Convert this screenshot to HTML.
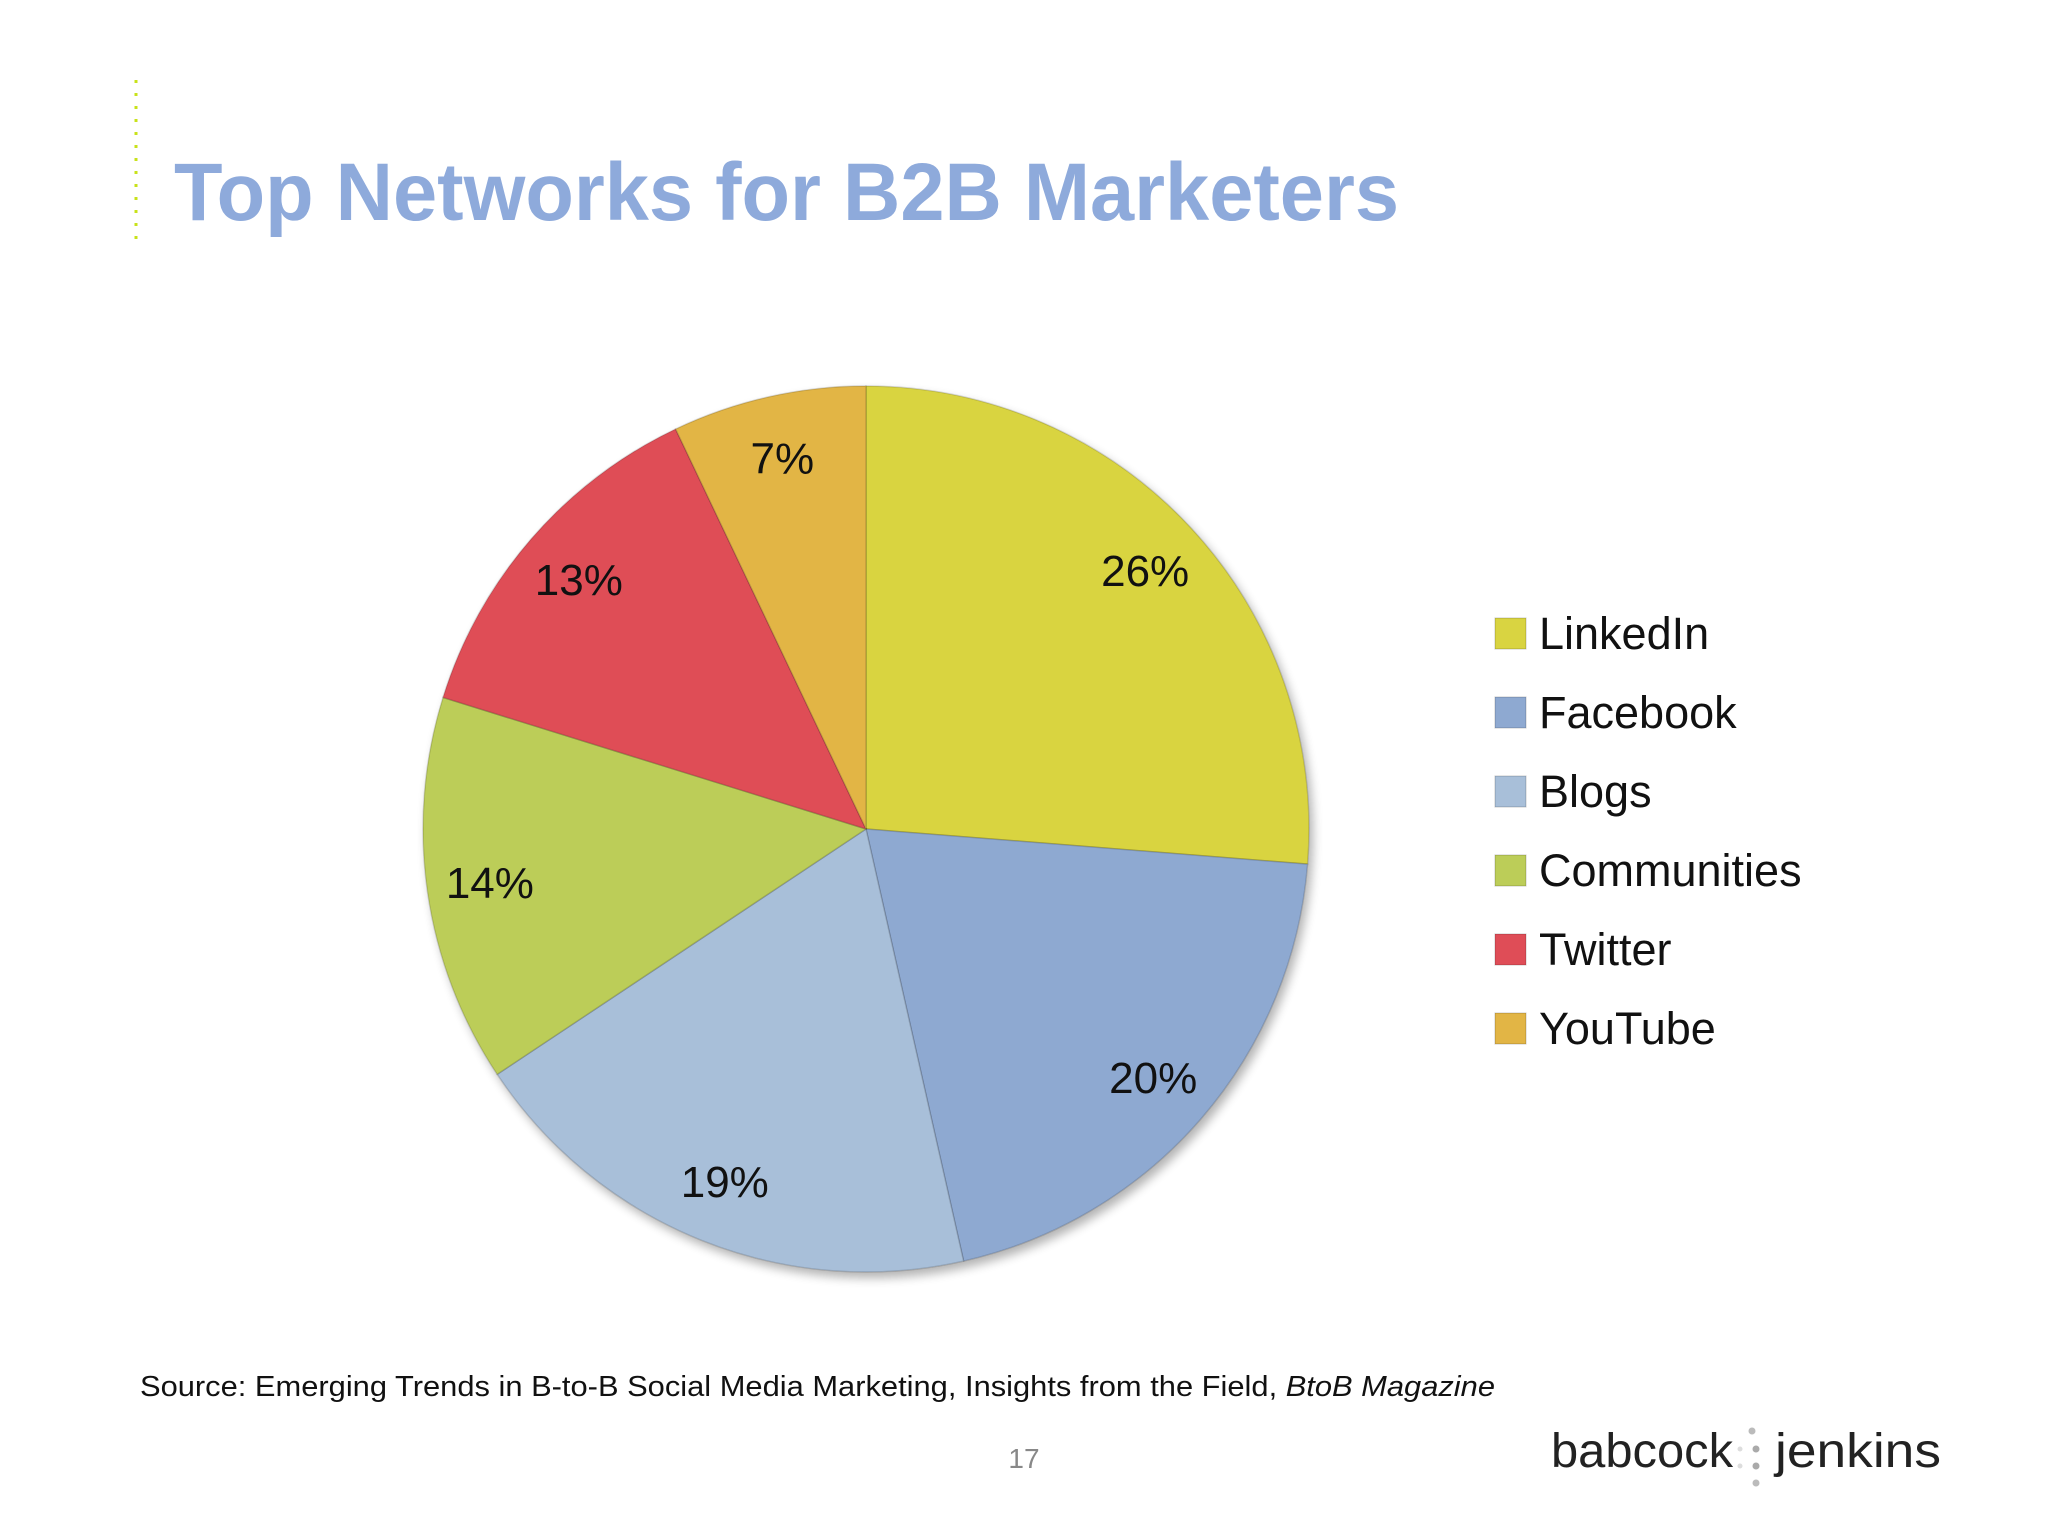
<!DOCTYPE html>
<html><head><meta charset="utf-8"><style>
body{margin:0;background:#fff;}
svg{display:block;font-family:"Liberation Sans",sans-serif;}
</style></head><body>
<svg id="chart" width="2048" height="1536" viewBox="0 0 2048 1536" xmlns="http://www.w3.org/2000/svg">
<defs><filter id="sh" x="-10%" y="-10%" width="130%" height="130%"><feGaussianBlur in="SourceAlpha" stdDeviation="5"/><feOffset dx="4" dy="6"/><feComponentTransfer><feFuncA type="linear" slope="0.3"/></feComponentTransfer><feMerge><feMergeNode/><feMergeNode in="SourceGraphic"/></feMerge></filter></defs>
<line x1="136" y1="80" x2="136" y2="242" stroke="#c8e21a" stroke-width="3" stroke-dasharray="3 10"/>
<text x="174" y="220" font-size="82" font-weight="bold" fill="#8eaadb" textLength="1225" lengthAdjust="spacingAndGlyphs">Top Networks for B2B Marketers</text>
<g id="pie" filter="url(#sh)"></g>
<g id="labels"></g>
<g id="legend"></g>
<text x="140" y="1396" font-size="29" fill="#111" textLength="1355" lengthAdjust="spacingAndGlyphs">Source: Emerging Trends in B-to-B Social Media Marketing, Insights from the Field, <tspan font-style="italic">BtoB Magazine</tspan></text>
<text x="1024" y="1468" font-size="28" fill="#888" text-anchor="middle">17</text>
<g>
<text x="1551" y="1467" font-size="48" fill="#222" textLength="182" lengthAdjust="spacingAndGlyphs">babcock</text>
<circle cx="1752" cy="1431" r="3.5" fill="#bbb"/><circle cx="1756" cy="1449" r="3.5" fill="#aaa"/><circle cx="1756" cy="1466" r="3.5" fill="#aaa"/><circle cx="1756" cy="1483" r="3.5" fill="#bbb"/><circle cx="1740" cy="1449" r="2.5" fill="#ddd"/><circle cx="1740" cy="1466" r="2.5" fill="#ddd"/>
<text x="1775" y="1467" font-size="48" fill="#222" textLength="166" lengthAdjust="spacingAndGlyphs">jenkins</text>
</g>
</svg>
<script>
const categories=["LinkedIn","Facebook","Blogs","Communities","Twitter","YouTube"];
const values=[26,20,19,14,13,7];
const valueLabels=["26%","20%","19%","14%","13%","7%"];
const colors=["#d9d441","#8ea9d1","#a8bfd9","#bccd58","#df4d57","#e2b545"];
const NS="http://www.w3.org/2000/svg";
const cx=866,cy=829,r=443,lr=380;
const total=values.reduce((a,b)=>a+b,0);
const pie=document.getElementById('pie'),labs=document.getElementById('labels'),leg=document.getElementById('legend');
function pt(a,rad){return [cx+rad*Math.sin(a),cy-rad*Math.cos(a)];}
let acc=0;
values.forEach((v,i)=>{
  const a0=acc/total*2*Math.PI; acc+=v; const a1=acc/total*2*Math.PI;
  const p0=pt(a0,r),p1=pt(a1,r);
  const path=document.createElementNS(NS,'path');
  path.setAttribute('d',`M${cx},${cy}L${p0[0]},${p0[1]}A${r},${r} 0 ${a1-a0>Math.PI?1:0} 1 ${p1[0]},${p1[1]}Z`);
  path.setAttribute('fill',colors[i]);
  path.setAttribute('stroke','rgba(0,0,0,0.15)');
  path.setAttribute('stroke-width','1.5');
  
  
  pie.appendChild(path);
  const m=(a0+a1)/2,lp=pt(m,lr);
  const t=document.createElementNS(NS,'text');
  t.setAttribute('x',lp[0]);t.setAttribute('y',lp[1]+15);
  t.setAttribute('text-anchor','middle');t.setAttribute('font-size','44');t.setAttribute('fill','#111');
  
  
  t.textContent=valueLabels[i];labs.appendChild(t);
  const y=633+i*79;
  const sq=document.createElementNS(NS,'rect');
  sq.setAttribute('x',1495);sq.setAttribute('y',y-15);sq.setAttribute('width',31);sq.setAttribute('height',31);
  sq.setAttribute('fill',colors[i]);sq.setAttribute('stroke','rgba(0,0,0,0.2)');
  
  
  leg.appendChild(sq);
  const lt=document.createElementNS(NS,'text');
  lt.setAttribute('x',1539);lt.setAttribute('y',y+16);lt.setAttribute('font-size','45');lt.setAttribute('fill','#111');
  
  
  lt.textContent=categories[i];leg.appendChild(lt);
});
</script>
</body></html>
